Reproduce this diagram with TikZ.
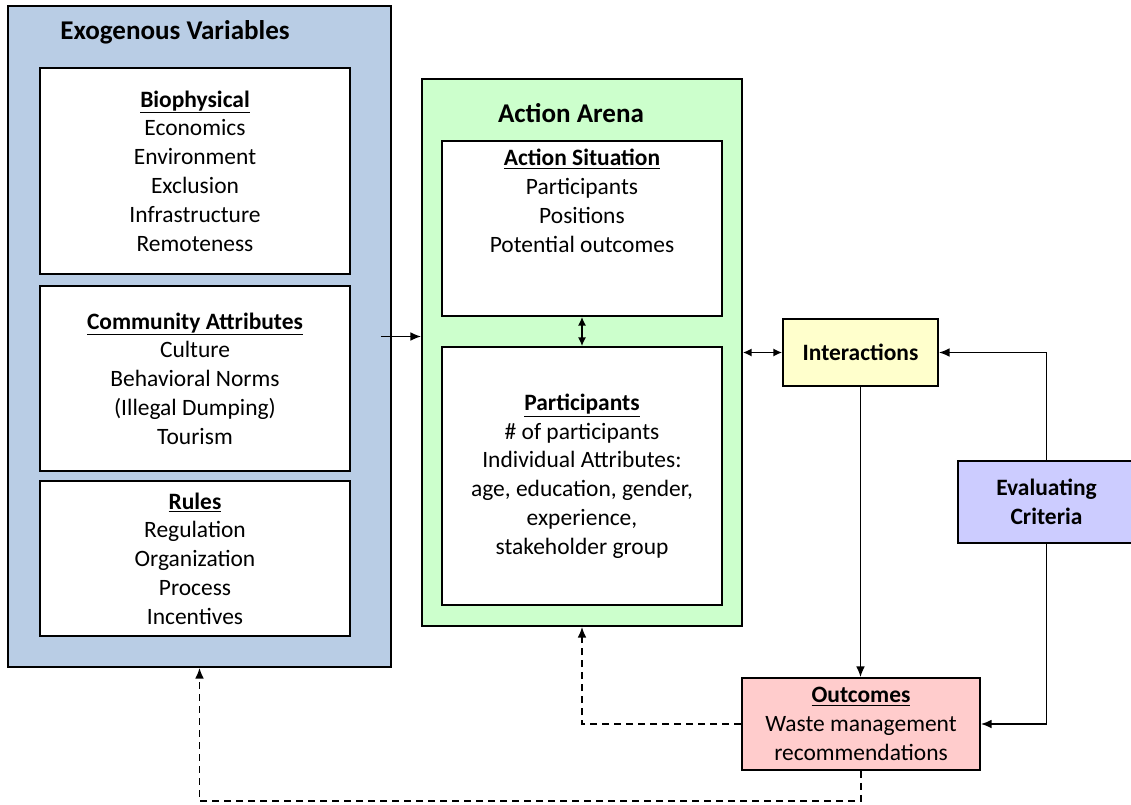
\documentclass[tikz,border=0pt]{standalone}
\usepackage{fontspec}
\setmainfont{Carlito}
\usetikzlibrary{arrows.meta,fit,calc}
\definecolor{exoblue}{HTML}{B9CDE5}
\definecolor{arenagreen}{HTML}{CCFFCC}
\definecolor{interyellow}{HTML}{FFFFCC}
\definecolor{evalpurple}{HTML}{CCCCFF}
\definecolor{outpink}{HTML}{FFCCCC}
\newcommand{\bodysize}{\fontsize{17.6}{21.6}\selectfont}
\newcommand{\titlesize}{\fontsize{20.3}{24}\selectfont\bfseries}
\newcommand{\hd}[1]{\underline{\textbf{#1}}}
\tikzset{
  panel/.style={draw=black, line width=1.3pt, inner sep=0pt},
  frame/.style={panel, fill=white},
  bodytext/.style={inner sep=0pt, align=center, font=\bodysize},
  titletext/.style={inner sep=0pt, font=\titlesize},
  conn/.style={line width=1.15pt, -{Latex[length=8pt,width=6.5pt]}},
  twoway/.style={line width=1.15pt, {Latex[length=6.5pt,width=6pt]}-{Latex[length=6.5pt,width=6pt]}},
  feedback/.style={conn, dash pattern=on 5.25pt off 3.75pt},
}
\begin{document}
\begin{tikzpicture}[x=0.75pt,y=-0.75pt]
\useasboundingbox (0,0) rectangle (1131,804);

% Exogenous variables panel
\node[panel, fill=exoblue, fit={(8,6) (391,667)}] (exo) {};
\node[titletext] (exotitle) at (175,32) {Exogenous Variables};
\node[frame, fit={(40,68) (350,274)}] (bio) {};
\node[bodytext] (biotext) at (bio.center)
  {\hd{Biophysical}\\Economics\\Environment\\Exclusion\\Infrastructure\\Remoteness};
\node[frame, fit={(40,286) (350,471)}] (comm) {};
\node[bodytext] (commtext) at (comm.center)
  {\hd{Community Attributes}\\Culture\\Behavioral Norms\\(Illegal Dumping)\\Tourism};
\node[frame, fit={(40,481) (350,636)}] (rules) {};
\node[bodytext] (rulestext) at (rules.center)
  {\hd{Rules}\\Regulation\\Organization\\Process\\Incentives};

% Action arena panel
\node[panel, fill=arenagreen, fit={(422,79) (742,626)}] (arena) {};
\node[titletext] (arenatitle) at (571,113) {Action Arena};
\node[frame, fit={(442,141) (722,316)}] (sit) {};
\node[bodytext] (sittext) at (582,201)
  {\hd{Action Situation}\\Participants\\Positions\\Potential outcomes};
\node[frame, fit={(442,347) (722,605)}] (part) {};
\node[bodytext] (parttext) at (part.center)
  {\hd{Participants}\\\# of participants\\Individual Attributes:\\age, education, gender,\\experience,\\stakeholder group};

% Interactions, criteria and outcomes
\node[panel, fill=interyellow, fit={(783,319) (938,386)}] (inter) {};
\node[bodytext] (intertext) at (inter.center) {\textbf{Interactions}};
\node[panel, fill=evalpurple, fit={(958,461) (1135,543)}] (eval) {};
\node[bodytext] (evaltext) at (eval.center) {\textbf{Evaluating}\\\textbf{Criteria}};
\node[panel, fill=outpink, fit={(742,678) (980,770)}] (out) {};
\node[bodytext] (outtext) at (out.center)
  {\hd{Outcomes}\\Waste management\\recommendations};

% Connectors
\draw[conn] ([xshift=-8.25pt]exo.east) -- (exo.east -| arena.west);
\draw[twoway] (sit.south) -- (part.north);
\draw[twoway] (inter.west -| arena.east) -- (inter.west);
\draw[conn] (eval.north) |- (inter.east);
\draw[conn] (inter.south) -- (inter.south |- out.north);
\draw[conn] (eval.south) |- (out.east);

% Feedback loops
\coordinate (base) at (0,801);
\draw[feedback] (out.west) -| (part.south |- arena.south);
\draw[feedback] (out.south) -- (out.south |- base) -| (exo.south);
\end{tikzpicture}
\end{document}
